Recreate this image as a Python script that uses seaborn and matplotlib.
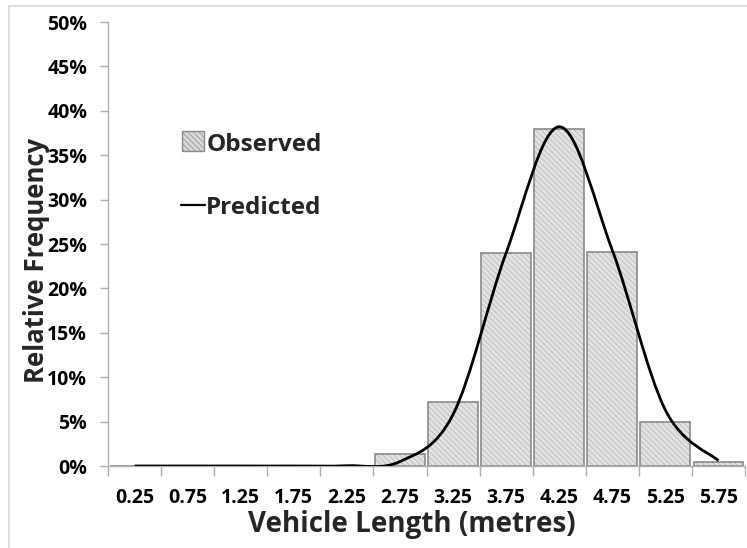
import numpy as np
import pandas as pd
import matplotlib
matplotlib.use("Agg")
import matplotlib.pyplot as plt
from matplotlib.path import Path
from matplotlib.patches import PathPatch, Rectangle
from matplotlib.lines import Line2D
from matplotlib.ticker import FuncFormatter, FixedLocator
from matplotlib.legend_handler import HandlerBase
import seaborn as sns

# ---- data ----
categories = ["0.25", "0.75", "1.25", "1.75", "2.25", "2.75",
              "3.25", "3.75", "4.25", "4.75", "5.25", "5.75"]
observed = [0.0, 0.0, 0.0, 0.0, 0.0, 1.3, 7.2, 24.0, 37.9, 24.1, 5.0, 0.4]
predicted = [0.0, 0.0, 0.0, 0.0, 0.03, 0.5, 5.8, 24.0, 38.2, 24.3, 6.3, 0.6]
y_ticks = [0, 5, 10, 15, 20, 25, 30, 35, 40, 45, 50]

df = pd.DataFrame({"Length": categories, "Observed": observed, "Predicted": predicted})

sns.set_theme(style="white")
plt.rcParams["font.family"] = ["Open Sans", "DejaVu Sans"]
plt.rcParams["font.weight"] = "bold"
plt.rcParams["hatch.linewidth"] = 0.5

fig = plt.figure(figsize=(7.47, 5.48), dpi=100)
ax = fig.add_axes([108 / 747, 1 - 466 / 548, (745 - 108) / 747, (466 - 22) / 548])

bar_color = "#e2e2e2"
hatch_color = "#b4b4b4"
edge_color = "#8a8a8a"
sns.barplot(data=df, x="Length", y="Observed", ax=ax, color=bar_color,
            width=0.94, saturation=1, edgecolor=hatch_color, linewidth=0)
for p in ax.patches:
    p.set_hatch("\\\\\\\\\\\\")
sns.barplot(data=df, x="Length", y="Observed", ax=ax, fill=False,
            width=0.94, edgecolor=edge_color, linewidth=1.2)

# smooth predicted line (Catmull-Rom style Bezier through data points)
xs = np.arange(len(predicted), dtype=float)
ys = np.array(predicted, dtype=float)
pts = np.column_stack([xs, ys])
verts = [tuple(pts[0])]
codes = [Path.MOVETO]
n = len(pts)
for i in range(n - 1):
    p0 = pts[i - 1] if i > 0 else pts[i]
    p1 = pts[i]
    p2 = pts[i + 1]
    p3 = pts[i + 2] if i + 2 < n else pts[i + 1]
    c1 = p1 + (p2 - p0) / 6.0
    c2 = p2 - (p3 - p1) / 6.0
    verts += [tuple(c1), tuple(c2), tuple(p2)]
    codes += [Path.CURVE4, Path.CURVE4, Path.CURVE4]
ax.add_patch(PathPatch(Path(verts, codes), facecolor="none", edgecolor="black",
                       linewidth=2.0, zorder=5))

# axes styling
ax.set_xlim(-0.5, len(categories) - 0.5)
ax.set_ylim(0, 50)
ax.set_yticks(y_ticks)
ax.yaxis.set_major_formatter(FuncFormatter(lambda v, _: f"{v:.0f}%"))
for side in ["top", "right"]:
    ax.spines[side].set_visible(False)
for side in ["left", "bottom"]:
    ax.spines[side].set_color("#b0b0b0")
    ax.spines[side].set_linewidth(1.0)

ax.xaxis.set_major_locator(FixedLocator(np.arange(-0.5, len(categories), 1.0)))
ax.xaxis.set_minor_locator(FixedLocator(np.arange(len(categories))))
ax.set_xticklabels([""] * len(ax.get_xticks()))
ax.set_xticklabels(categories, minor=True)
ax.tick_params(axis="x", which="major", length=7, width=1, color="#b0b0b0",
               direction="out", bottom=True)
ax.tick_params(axis="x", which="minor", length=0, pad=16, labelsize=14)
ax.tick_params(axis="y", length=6, width=1, color="#b0b0b0", direction="out",
               left=True, pad=9, labelsize=14)
for lab in ax.get_xticklabels(minor=True) + ax.get_yticklabels():
    lab.set_fontweight("bold")
    lab.set_color("black")

ax.set_xlabel("Vehicle Length (metres)", fontsize=20, fontweight="bold")
ax.set_ylabel("Relative Frequency", fontsize=18.5, fontweight="bold")
ax.xaxis.set_label_coords(0.477, -0.131)
ax.yaxis.set_label_coords(-0.113, 0.464)
ax.xaxis.label.set_va("center")
ax.yaxis.label.set_va("center")
ax.grid(False)


class BoxHandler(HandlerBase):
    def create_artists(self, legend, orig, xd, yd, w, h, fs, trans):
        r = Rectangle((xd + 1, yd - 1), w - 2, h + 1, facecolor="#d8d8d8",
                      edgecolor=edge_color, linewidth=1.0, hatch="\\\\\\\\\\\\",
                      transform=trans)
        return [r]


box = Rectangle((0, 0), 1, 1)
line = Line2D([0], [0], color="black", linewidth=1.6)
leg = ax.legend([box, line], ["Observed", "Predicted"], loc="upper left",
                bbox_to_anchor=(0.08, 0.80), frameon=False,
                handlelength=1.0, handleheight=0.8, handletextpad=0.05,
                labelspacing=1.62, handler_map={Rectangle: BoxHandler()},
                prop={"weight": "bold", "size": 17.5})

# light outer frame
fig.add_artist(Rectangle((9 / 747, -0.05), 1.2, 1 - 6 / 548 + 0.05,
                         transform=fig.transFigure, fill=False,
                         edgecolor="#d9d9d9", linewidth=1.2))

fig.savefig("out.png", dpi=100)
